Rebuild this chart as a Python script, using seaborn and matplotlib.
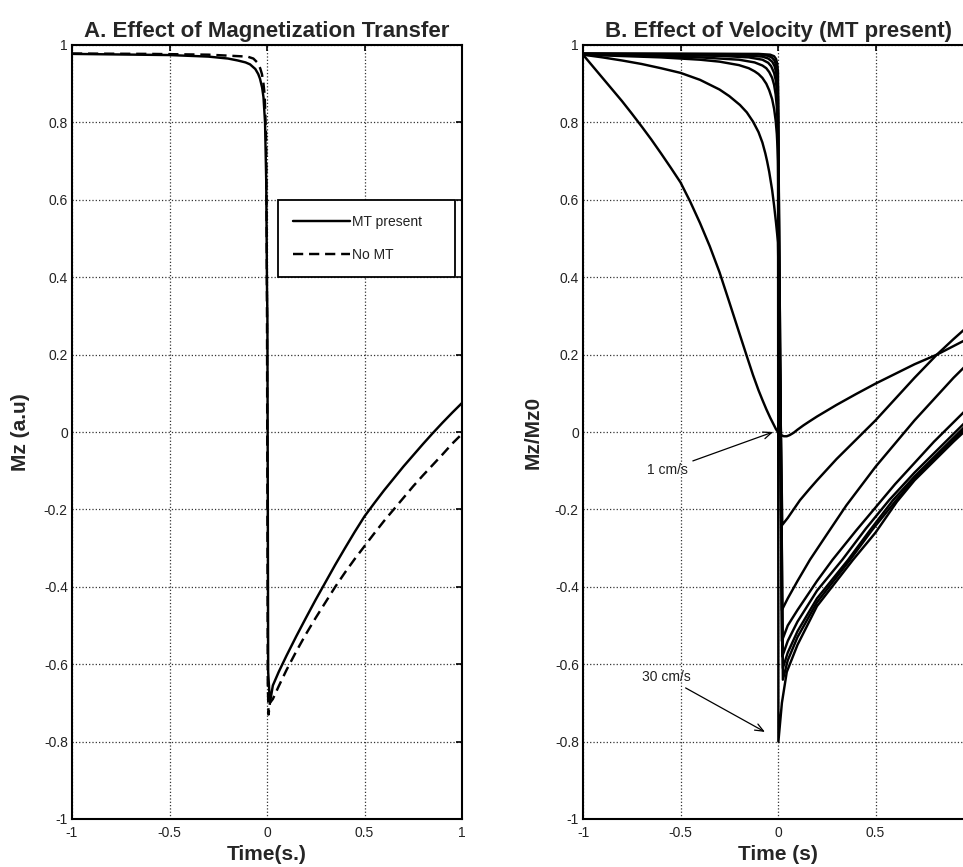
import matplotlib
matplotlib.use("Agg")
import matplotlib.pyplot as plt
import pandas as pd
import seaborn as sns

# ---------------- data ----------------
x_ticks = [-1, -0.5, 0, 0.5, 1]
x_tick_labels_a = ["-1", "-0.5", "0", "0.5", "1"]
x_tick_labels_b = ["-1", "-0.5", "0", "0.5", ""]   # the "1" label lies beyond the cropped edge
y_ticks = [-1, -0.8, -0.6, -0.4, -0.2, 0, 0.2, 0.4, 0.6, 0.8, 1]
y_tick_labels = ["-1", "-0.8", "-0.6", "-0.4", "-0.2", "0", "0.2", "0.4", "0.6", "0.8", "1"]

# Panel A
a_mt_t = [-1, -0.5, -0.3, -0.2, -0.15, -0.11, -0.087, -0.06, -0.045, -0.036, -0.025, -0.018,
          -0.01, -0.004, 0.0, 0.002, 0.006, 0.015, 0.03, 0.06, 0.1, 0.15, 0.2, 0.25, 0.3,
          0.35, 0.4, 0.45, 0.5, 0.55, 0.6, 0.65, 0.7, 0.75, 0.8, 0.85, 0.9, 0.95, 1.0]
a_mt_mz = [0.977, 0.974, 0.97, 0.965, 0.96, 0.955, 0.95, 0.938, 0.925, 0.913, 0.89, 0.865,
           0.8, 0.65, 0.37, 0.3, -0.62, -0.70, -0.655, -0.62, -0.578, -0.528, -0.48, -0.433,
           -0.388, -0.343, -0.30, -0.258, -0.218, -0.184, -0.151, -0.12, -0.089, -0.06,
           -0.031, -0.003, 0.024, 0.05, 0.075]
a_nomt_t = [-1, -0.6, -0.3, -0.1, -0.07, -0.05, -0.035, -0.026, -0.018, -0.012, -0.004, 0.0,
            0.004, 0.008, 0.015, 0.03, 0.06, 0.1, 0.15, 0.2, 0.25, 0.3, 0.35, 0.4, 0.45,
            0.5, 0.55, 0.6, 0.65, 0.7, 0.75, 0.8, 0.85, 0.9, 0.95, 1.0]
a_nomt_mz = [0.978, 0.977, 0.975, 0.97, 0.965, 0.955, 0.94, 0.925, 0.9, 0.87, 0.75, 0.3,
             -0.65, -0.73, -0.70, -0.69, -0.657, -0.615, -0.567, -0.522, -0.48, -0.44,
             -0.40, -0.363, -0.328, -0.295, -0.262, -0.23, -0.20, -0.17, -0.14, -0.112,
             -0.085, -0.058, -0.03, -0.005]
a_labels = ["MT present", "No MT"]

# Panel B (velocities, MT present)
b_v1_t = [-1.0, -0.95, -0.9, -0.85, -0.8, -0.75, -0.7, -0.65, -0.6, -0.55, -0.5, -0.45,
          -0.4, -0.35, -0.3, -0.25, -0.2, -0.16, -0.128, -0.1, -0.08, -0.06, -0.04, -0.02,
          -0.01, 0.0, 0.01, 0.02, 0.03, 0.045, 0.06, 0.08, 0.1, 0.13, 0.16, 0.2, 0.3, 0.4,
          0.5, 0.6, 0.7, 0.815, 0.9, 1.0]
b_v1_mz = [0.975, 0.945, 0.915, 0.885, 0.855, 0.823, 0.79, 0.756, 0.72, 0.683, 0.645,
           0.595, 0.54, 0.48, 0.413, 0.336, 0.258, 0.196, 0.147, 0.108, 0.083, 0.059, 0.037,
           0.017, 0.007, 0.0, -0.005, -0.009, -0.011, -0.011, -0.008, -0.002, 0.006, 0.017,
           0.027, 0.04, 0.07, 0.098, 0.125, 0.15, 0.175, 0.2, 0.222, 0.248]
b_v2_t = [-1, -0.9, -0.8, -0.7, -0.6, -0.5, -0.4, -0.3, -0.25, -0.195, -0.16, -0.128, -0.1,
          -0.08, -0.065, -0.056, -0.045, -0.03, -0.02, -0.01, 0.0, 0.022, 0.05, 0.08, 0.113,
          0.16, 0.2, 0.3, 0.4, 0.5, 0.6, 0.7, 0.815, 0.9, 1.0]
b_v2_mz = [0.975, 0.968, 0.96, 0.951, 0.94, 0.928, 0.91, 0.885, 0.868, 0.845, 0.826, 0.802,
           0.775, 0.748, 0.72, 0.70, 0.672, 0.625, 0.585, 0.54, 0.49, -0.24, -0.222, -0.2,
           -0.176, -0.148, -0.125, -0.07, -0.02, 0.03, 0.085, 0.14, 0.2, 0.24, 0.285]
b_v3_t = [-1, -0.6, -0.4, -0.3, -0.2, -0.15, -0.12, -0.1, -0.08, -0.06, -0.045, -0.03,
          -0.02, -0.012, -0.006, -0.002, 0.0,
          0.02, 0.05, 0.1, 0.164, 0.25, 0.35, 0.5, 0.6, 0.7, 0.8, 0.9, 1.0]
b_v3_mz = [0.975, 0.968, 0.962, 0.957, 0.948, 0.94, 0.932, 0.925, 0.915, 0.90, 0.883, 0.86,
           0.835, 0.805, 0.77, 0.73, 0.70,
           -0.46, -0.43, -0.385, -0.33, -0.265, -0.19, -0.09, -0.03, 0.03, 0.085, 0.14, 0.19]
b_v4_t = [-1, -0.4, -0.2, -0.12, -0.08, -0.06, -0.045, -0.03, -0.02, -0.012, -0.006,
          -0.002, 0.0,
          0.02, 0.05, 0.1, 0.2, 0.28, 0.4, 0.5, 0.6, 0.7, 0.8, 0.9, 1.0]
b_v4_mz = [0.976, 0.968, 0.962, 0.955, 0.947, 0.94, 0.93, 0.915, 0.897, 0.872, 0.84, 0.80,
           0.76,
           -0.54, -0.50, -0.46, -0.385, -0.33, -0.255, -0.195, -0.135, -0.08, -0.025,
           0.025, 0.075]
b_v5_t = [-1, -0.3, -0.15, -0.08, -0.05, -0.035, -0.02, -0.012, -0.006, -0.002, 0.0,
          0.022, 0.05, 0.1, 0.2, 0.33, 0.45, 0.57, 0.7, 0.8, 0.9, 1.0]
b_v5_mz = [0.976, 0.972, 0.968, 0.962, 0.954, 0.945, 0.928, 0.91, 0.885, 0.85, 0.82,
           -0.58, -0.54, -0.49, -0.41, -0.33, -0.25, -0.176, -0.105, -0.055, -0.005, 0.045]
b_v6_t = [-1, -0.2, -0.08, -0.05, -0.03, -0.018, -0.01, -0.005, -0.002, 0.0,
          0.025, 0.05, 0.1, 0.2, 0.36, 0.47, 0.59, 0.7, 0.8, 0.9, 1.0]
b_v6_mz = [0.977, 0.974, 0.97, 0.965, 0.957, 0.946, 0.93, 0.91, 0.885, 0.86,
           -0.61, -0.57, -0.515, -0.43, -0.33, -0.255, -0.176, -0.115, -0.065, -0.015, 0.035]
b_v7_t = [-1, -0.1, -0.05, -0.03, -0.018, -0.01, -0.005, -0.002, 0.0,
          0.025, 0.05, 0.1, 0.2, 0.37, 0.48, 0.6, 0.7, 0.8, 0.9, 1.0]
b_v7_mz = [0.978, 0.976, 0.972, 0.967, 0.96, 0.948, 0.93, 0.91, 0.89,
           -0.64, -0.59, -0.53, -0.44, -0.33, -0.255, -0.18, -0.12, -0.07, -0.02, 0.028]
b_v30_t = [-1, -0.1, -0.04, -0.02, -0.01, -0.004, 0.0,
           0.002, 0.02, 0.045, 0.1, 0.2, 0.385, 0.5, 0.61, 0.7, 0.8, 0.9, 1.0]
b_v30_mz = [0.978, 0.977, 0.975, 0.971, 0.964, 0.952, 0.93,
            -0.80, -0.70, -0.62, -0.55, -0.45, -0.33, -0.26, -0.18, -0.125, -0.075,
            -0.025, 0.022]

b_ann_labels = ["1 cm/s", "30 cm/s"]
b_ann_xy = [(-0.025, 0.0), (-0.067, -0.775)]
b_ann_text_xy = [(-0.565, -0.098), (-0.575, -0.633)]

# ---------------- style ----------------
sns.set_style("white")
plt.rcParams["font.family"] = ["Liberation Sans", "DejaVu Sans"]
plt.rcParams["axes.linewidth"] = 1.4

W, H = 963, 867
fig = plt.figure(figsize=(W / 100, H / 100), dpi=100)
axA = fig.add_axes([72 / W, (H - 819) / H, 390 / W, 774 / H])
axB = fig.add_axes([583 / W, (H - 819) / H, 390 / W, 774 / H])

LW = 1.75


def style_axes(ax, xlabels):
    ax.set_xlim(-1, 1)
    ax.set_ylim(-1, 1)
    ax.set_xticks(x_ticks)
    ax.set_xticklabels(xlabels)
    ax.set_yticks(y_ticks)
    ax.set_yticklabels(y_tick_labels)
    ax.tick_params(direction="in", length=4, width=1.2, top=True, right=True,
                   labelsize=10, labelcolor="#222222", color="k")
    ax.tick_params(axis="x", pad=5)
    ax.tick_params(axis="y", pad=3)
    ax.grid(True, linestyle=":", color="#333333", linewidth=0.9)
    for s in ax.spines.values():
        s.set_color("k")
        s.set_linewidth(1.5)
        s.set_visible(True)


# Panel A
dfA1 = pd.DataFrame({"t": a_mt_t, "mz": a_mt_mz})
dfA2 = pd.DataFrame({"t": a_nomt_t, "mz": a_nomt_mz})
sns.lineplot(data=dfA1, x="t", y="mz", ax=axA, color="k", lw=LW, sort=False,
             estimator=None, label=a_labels[0])
sns.lineplot(data=dfA2, x="t", y="mz", ax=axA, color="k", lw=LW, sort=False,
             estimator=None, label=a_labels[1])
axA.lines[1].set_dashes([4.2, 2.4])
style_axes(axA, x_tick_labels_a)
axA.set_title("A. Effect of Magnetization Transfer", fontsize=16, fontweight="bold", pad=6)
axA.set_xlabel("Time(s.)", fontsize=15, fontweight="bold")
axA.set_ylabel("Mz (a.u)", fontsize=15, fontweight="bold")
axA.xaxis.set_label_coords(0.5, -0.033)
axA.yaxis.set_label_coords(-0.108, 0.5)
leg = axA.legend(loc="lower left", bbox_to_anchor=(0.528, 0.700, 0.454, 0.101),
                 mode="expand", borderaxespad=0, fancybox=False, edgecolor="k",
                 framealpha=1, fontsize=10, handlelength=4.1, handletextpad=0.15,
                 labelspacing=1.35, borderpad=1.1)
leg.get_frame().set_linewidth(1.3)
for txt in leg.get_texts():
    txt.set_color("#222222")

# Panel B
curves = [(b_v1_t, b_v1_mz), (b_v2_t, b_v2_mz), (b_v3_t, b_v3_mz), (b_v4_t, b_v4_mz),
          (b_v5_t, b_v5_mz), (b_v6_t, b_v6_mz), (b_v7_t, b_v7_mz), (b_v30_t, b_v30_mz)]
for t, mz in curves:
    sns.lineplot(x=t, y=mz, ax=axB, color="k", lw=LW, sort=False, estimator=None)
style_axes(axB, x_tick_labels_b)
axB.set_title("B. Effect of Velocity (MT present)", fontsize=16, fontweight="bold", pad=6)
axB.set_xlabel("Time (s)", fontsize=15, fontweight="bold")
axB.set_ylabel("Mz/Mz0", fontsize=15, fontweight="bold")
axB.xaxis.set_label_coords(0.5, -0.033)
axB.yaxis.set_label_coords(-0.103, 0.5)
for lab, xy, xyt in zip(b_ann_labels, b_ann_xy, b_ann_text_xy):
    axB.annotate(lab, xy=xy, xytext=xyt, ha="center", va="center", fontsize=10,
                 color="#222222",
                 arrowprops=dict(arrowstyle="->,head_length=0.6,head_width=0.25",
                                 color="k", lw=0.9, shrinkA=1, shrinkB=0))

fig.savefig("out.png", dpi=100)
